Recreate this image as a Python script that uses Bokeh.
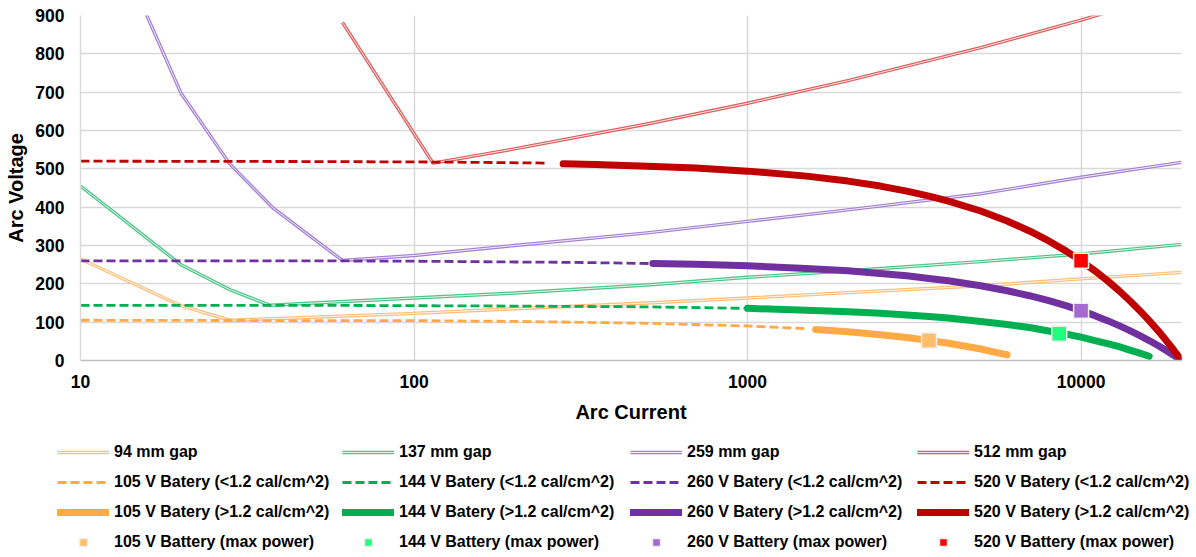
from bokeh.plotting import figure
from bokeh.layouts import column
from bokeh.models import Range1d, FixedTicker, Legend, LegendItem, PrintfTickFormatter
from bokeh.embed import file_html
from bokeh.resources import INLINE

# ---------------- data ----------------
gap94_i = [10, 20, 28, 50, 100, 200, 500, 1000, 2000, 5000, 10000, 20000]
gap94_v = [265, 143, 105, 113, 123, 135, 150, 163, 177, 195, 213, 230]
gap137_i = [10, 20, 28, 37, 50, 100, 200, 500, 1000, 2000, 5000, 10000, 20000]
gap137_v = [455, 250, 185, 144, 150, 163, 176, 197, 217, 234, 258, 278, 303]
gap259_i = [15, 20, 28, 38, 61, 100, 200, 500, 1000, 2000, 5000, 10000, 20000]
gap259_v = [945, 698, 513, 396, 261, 274, 300, 333, 363, 393, 435, 478, 517]
gap512_i = [61, 114, 200, 500, 1000, 2000, 5000, 10000, 20000]
gap512_v = [882, 515, 552, 617, 671, 730, 816, 888, 967]

b105_lo_i = [10, 50, 100, 200, 300, 500, 1000, 1500]
b105_lo_v = [105, 104, 104, 102, 100, 97, 90, 83]
b105_hi_i = [1600, 2000, 2500, 3000, 3500, 4000, 4500, 5000, 5500, 6000]
b105_hi_v = [81, 75, 67, 60, 52, 45, 37, 30, 22, 15]

b144_lo_i = [10, 50, 100, 200, 500, 1000]
b144_lo_v = [144, 144, 143, 142, 140, 136]
b144_hi_i = [1000, 1500, 2000, 2500, 3000, 3500, 4000, 5000, 6000, 7000, 8000, 9000,
             10000, 11000, 12000, 13000, 14000, 15000, 16000]
b144_hi_v = [136, 131, 127, 123, 119, 115, 111, 102, 94, 86, 77, 69,
             61, 52, 44, 36, 27, 19, 11]

b260_lo_i = [10, 50, 100, 200, 300, 510]
b260_lo_v = [260, 260, 259, 257, 256, 253]
b260_hi_i = [520, 700, 1000, 1500, 2000, 2500, 3000, 3500, 4000, 5000, 6000, 7000,
             8000, 9000, 10000, 11000, 12000, 13000, 14000, 15000, 16000, 17000,
             18000, 19000, 20000]
b260_hi_v = [253, 251, 247, 240, 234, 227, 221, 214, 208, 195, 182, 169,
             156, 143, 130, 117, 104, 91, 78, 65, 52, 39, 26, 13, 0]

b520_lo_i = [10, 50, 100, 150, 250]
b520_lo_v = [520, 519, 518, 517, 515]
b520_hi_i = [280, 350, 500, 700, 1000, 1500, 2000, 2500, 3000, 3500, 4000, 5000,
             6000, 7000, 8000, 9000, 10000, 11000, 12000, 13000, 14000, 15000,
             16000, 17000, 18000, 19000, 20000]
b520_hi_v = [513, 511, 507, 502, 494, 481, 468, 455, 442, 429, 416, 390,
             364, 338, 312, 286, 260, 234, 208, 182, 156, 130, 104, 78, 52, 26, 0]

mp_i = [3500, 8600, 10000, 10000]
mp_v = [52, 70, 130, 260]

gap_labels = ["94 mm gap", "137 mm gap", "259 mm gap", "512 mm gap"]
batt_names = ["105 V", "144 V", "260 V", "520 V"]
x_ticks = [10, 100, 1000, 10000]
y_ticks = [0, 100, 200, 300, 400, 500, 600, 700, 800, 900]

# ---------------- styling ----------------
gap_colors = ["#FFBE78", "#4FC689", "#A581D3", "#DE5E5E"]
batt_colors = ["#FFAA45", "#00B050", "#7030A0", "#C00000"]
mp_colors = ["#FFBF69", "#22FF7F", "#A468D0", "#FF0000"]
FONT = "Liberation Sans"

GAP_OUT = dict(line_width=3.4, line_join="round")
GAP_IN = dict(line_color="white", line_width=1.0, line_alpha=0.85, line_join="round")
LO = dict(line_width=2.8, line_dash="9 4")
HI = dict(line_width=7, line_cap="round", line_join="round")
MP = dict(marker="square", size=15, line_color="#EDEDED", line_width=1.5)

gaps = [(gap94_i, gap94_v), (gap137_i, gap137_v), (gap259_i, gap259_v), (gap512_i, gap512_v)]
los = [(b105_lo_i, b105_lo_v), (b144_lo_i, b144_lo_v), (b260_lo_i, b260_lo_v), (b520_lo_i, b520_lo_v)]
his = [(b105_hi_i, b105_hi_v), (b144_hi_i, b144_hi_v), (b260_hi_i, b260_hi_v), (b520_hi_i, b520_hi_v)]

# ---------------- main chart ----------------
p = figure(width=1196, height=430, x_axis_type="log",
           x_range=Range1d(10, 20000), y_range=Range1d(0, 900),
           output_backend="svg", toolbar_location=None,
           min_border_left=80, min_border_right=15, min_border_top=15,
           min_border_bottom=70)
p.outline_line_color = None

p.xaxis.ticker = FixedTicker(ticks=x_ticks)
p.xaxis.formatter = PrintfTickFormatter(format="%d")
p.yaxis.ticker = FixedTicker(ticks=y_ticks)
for ax in (p.xaxis, p.yaxis):
    ax.major_tick_in = 0
    ax.major_tick_out = 0
    ax.minor_tick_in = 0
    ax.minor_tick_out = 0
    ax.major_label_text_font = FONT
    ax.major_label_text_font_style = "bold"
    ax.major_label_text_font_size = "17.5px"
    ax.major_label_text_color = "black"
    ax.axis_label_text_font = FONT
    ax.axis_label_text_font_style = "bold"
    ax.axis_label_text_font_size = "20px"
    ax.axis_label_text_color = "black"
p.xaxis.axis_label = "Arc Current"
p.yaxis.axis_label = "Arc Voltage"
p.xaxis.axis_line_color = "#BFBFBF"
p.xaxis.axis_line_width = 1.5
p.yaxis.axis_line_color = "#D9D9D9"
p.yaxis.axis_line_width = 1.5
p.xaxis.major_label_standoff = 14
p.xaxis.axis_label_standoff = 10
p.yaxis.major_label_standoff = 16
p.yaxis.axis_label_standoff = 5
p.grid.grid_line_color = "#D9D9D9"
p.grid.grid_line_width = 1.5

for (gi, gv), c in zip(gaps, gap_colors):
    p.line(gi, gv, line_color=c, **GAP_OUT)
    p.line(gi, gv, **GAP_IN)
for (li, lv), c in zip(los, batt_colors):
    p.line(li, lv, line_color=c, **LO)
for (hi, hv), c in zip(his, batt_colors):
    p.line(hi, hv, line_color=c, **HI)
for k, c in enumerate(mp_colors):
    p.scatter([mp_i[k]], [mp_v[k]], fill_color=c, **MP)

# ---------------- legend strip (4 columns x 4 rows) ----------------
# same series drawn again in a strip whose ranges keep them out of view,
# so that the legend glyphs get the right styles
lg = figure(width=1196, height=127, x_range=Range1d(0, 1), y_range=Range1d(0, 1),
            output_backend="svg", toolbar_location=None, min_border=0,
            min_border_left=0, min_border_right=0, min_border_top=0, min_border_bottom=0,
            x_axis_location=None, y_axis_location=None)
lg.outline_line_color = None
lg.grid.visible = False
for fig in (p, lg):
    if hasattr(fig, "frame_align"):
        fig.frame_align = False

col_x = [57, 342, 630, 917]
for k in range(4):
    gi, gv = gaps[k]
    li, lv = los[k]
    hi, hv = his[k]
    g_out = lg.line(gi, gv, line_color=gap_colors[k], **GAP_OUT)
    g_in = lg.line(gi, gv, **GAP_IN)
    r_lo = lg.line(li, lv, line_color=batt_colors[k], **LO)
    r_hi = lg.line(hi, hv, line_color=batt_colors[k], **HI)
    r_mp = lg.scatter([mp_i[k]], [mp_v[k]], fill_color=mp_colors[k], **MP)
    items = [
        LegendItem(label=gap_labels[k], renderers=[g_out, g_in]),
        LegendItem(label=batt_names[k] + " Batery (<1.2 cal/cm^2)", renderers=[r_lo]),
        LegendItem(label=batt_names[k] + " Batery (>1.2 cal/cm^2)", renderers=[r_hi]),
        LegendItem(label=batt_names[k] + " Battery (max power)", renderers=[r_mp]),
    ]
    leg = Legend(items=items, location=(col_x[k], 5), orientation="vertical",
                 padding=0, margin=0, spacing=10,
                 glyph_width=52, glyph_height=20, label_height=20,
                 label_standoff=5,
                 label_text_font=FONT, label_text_font_size="16px",
                 label_text_font_style="bold", label_text_color="black",
                 border_line_alpha=0, background_fill_alpha=0)
    lg.add_layout(leg, "center")

layout = column(p, lg, spacing=0)
open("out.html", "w").write(file_html(layout, INLINE))
